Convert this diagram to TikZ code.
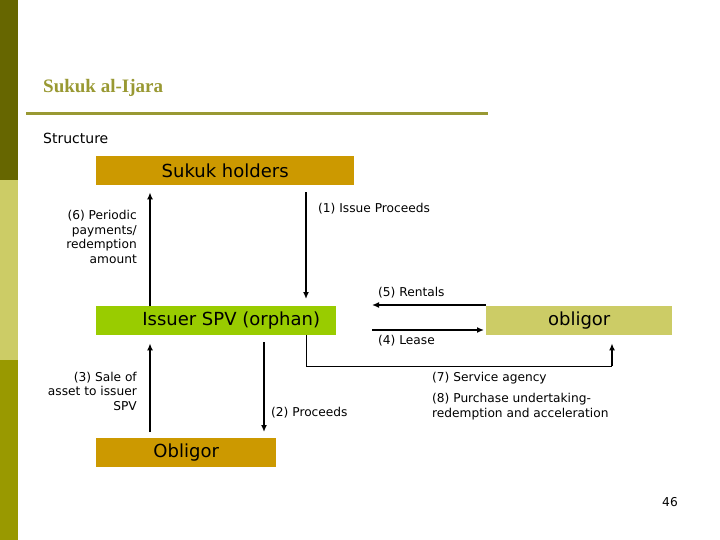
\documentclass[tikz,border=0pt]{standalone}
\usepackage{fontspec}
\setmainfont{DejaVu Sans}
\newfontfamily\titlefont{Liberation Serif}
\usetikzlibrary{arrows.meta}
\definecolor{barA}{HTML}{666600}
\definecolor{barB}{HTML}{CCCC66}
\definecolor{barC}{HTML}{999900}
\definecolor{titlecol}{HTML}{999933}
\definecolor{gold}{HTML}{CC9900}
\definecolor{lime}{HTML}{99CC00}
\definecolor{khaki}{HTML}{CCCC66}
\tikzset{
  box/.style={rectangle, inner sep=0pt, anchor=north west, font=\fontsize{18}{20}\selectfont},
  lbl/.style={inner sep=0pt, font=\fontsize{12.2}{14.5}\selectfont},
  arr/.style={line width=1.6pt, -{Latex[length=7pt,width=6pt]}},
  thinline/.style={line width=1pt}
}
\begin{document}
\begin{tikzpicture}[x=1pt,y=-1pt]
\path[use as bounding box, fill=white] (0,0) rectangle (720,540);
% side bar
\fill[barA] (0,0) rectangle (18,180);
\fill[barB] (0,180) rectangle (18,360);
\fill[barC] (0,360) rectangle (18,540);
% title
\node[anchor=west, inner sep=0pt, text=titlecol, font=\titlefont\bfseries\fontsize{19}{21}\selectfont] (title) at (43,88) {Sukuk al-Ijara};
\draw[titlecol, line width=2.5pt] (26,113.5) -- (488,113.5);
\node[anchor=west, inner sep=0pt, font=\fontsize{14}{16}\selectfont] (structure) at (43,138) {Structure};
% boxes
\node[box, fill=gold, minimum width=258pt, minimum height=29pt] (sukuk) at (96,156) {Sukuk holders};
\node[box, fill=lime, minimum width=240pt, minimum height=29pt] (issuer) at (96,306) {\hspace*{30pt}Issuer SPV (orphan)};
\node[box, fill=khaki, minimum width=186pt, minimum height=29pt] (obl) at (486,306) {obligor};
\node[box, fill=gold, minimum width=180pt, minimum height=29pt] (Obl) at (96,438) {Obligor};
% helper coordinates
\coordinate (xa) at (150,0);
\coordinate (xb) at (306,0);
\coordinate (xc) at (264,0);
\coordinate (xd) at (612,0);
\coordinate (ya) at (0,305);
\coordinate (yb) at (0,330);
\coordinate (yc) at (0,366);
\coordinate (xe) at (372,0);
% arrows
\draw[arr, shorten >=7pt] (issuer.north -| xa) -- (sukuk.south -| xa);
\draw[arr, shorten <=7pt, shorten >=7pt] (sukuk.south -| xb) -- (issuer.north -| xb);
\draw[arr] (obl.west |- ya) -- (xe |- ya);
\draw[arr, shorten >=2pt] (xe |- yb) -- (obl.west |- yb);
\draw[thinline] (issuer.south -| xb) -- (xb |- yc) -- (xd |- yc);
\draw[arr] (xd |- yc) -- ([yshift=-8pt]obl.south -| xd);
\draw[arr, shorten <=6pt, shorten >=8pt] (Obl.north -| xa) -- (issuer.south -| xa);
\draw[arr, shorten <=7pt, shorten >=6pt] (issuer.south -| xc) -- (Obl.north -| xc);
% labels
\node[lbl, anchor=west] (l1) at (318,209) {(1) Issue Proceeds};
\node[lbl, anchor=base east, align=right] (l6) at (137,263) {(6) Periodic\\payments/\\redemption\\amount};
\node[lbl, anchor=west] (l5) at (378,293) {(5) Rentals};
\node[lbl, anchor=west] (l4) at (378,341) {(4) Lease};
\node[lbl, anchor=base east, align=right] (l3) at (137,410) {(3) Sale of\\asset to issuer\\SPV};
\node[lbl, anchor=west] (l2) at (271,413) {(2) Proceeds};
\node[lbl, anchor=west] (l7) at (432,378) {(7) Service agency};
\node[lbl, anchor=base west, align=left] (l8) at (432,417) {(8) Purchase undertaking-\\redemption and acceleration};
\node[lbl, anchor=center] (pg) at (670,502) {46};
\end{tikzpicture}
\end{document}
